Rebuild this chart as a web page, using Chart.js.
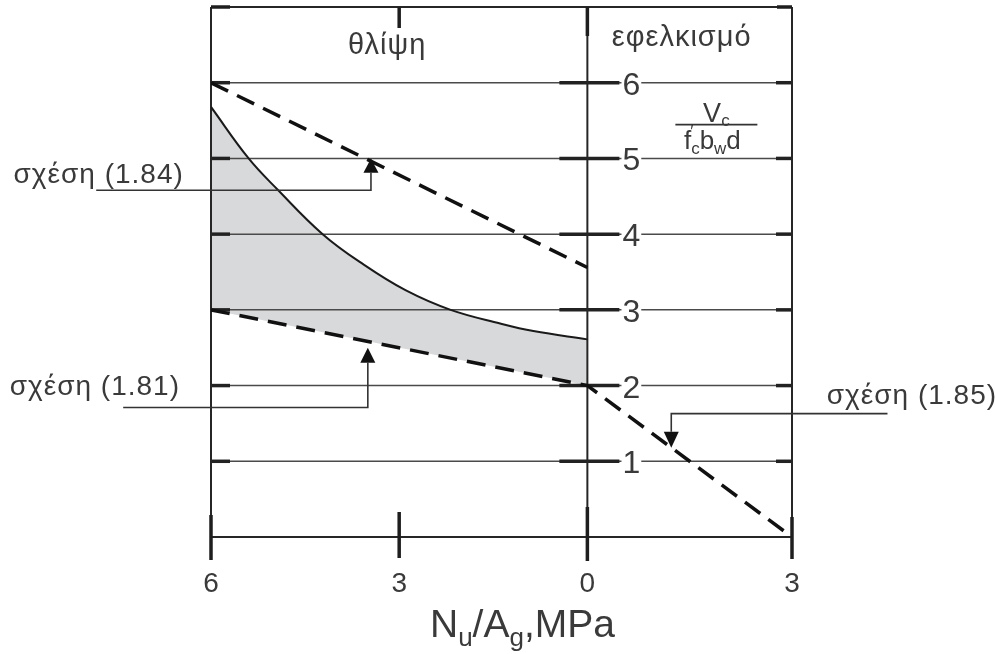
<!DOCTYPE html>
<html>
<head>
<meta charset="utf-8">
<script src="https://cdn.jsdelivr.net/npm/chart.js@4.4.0/dist/chart.umd.min.js"></script>
<style>
  html, body { margin: 0; padding: 0; background: #fff; }
  #wrap { width: 995px; height: 654px; position: relative; }
</style>
</head>
<body>
<div id="wrap"><canvas id="myChart"></canvas></div>
<script>
// x: axial stress N/A (MPa), compression negative (left), tension positive (right)
const curveX = [-6, -5.4, -4.94, -4.22, -3.57, -2.9, -2.18, -1.39, -0.86, 0];
const curveY = [5.68, 5.0, 4.59, 4.0, 3.6, 3.26, 3.0, 2.82, 2.72, 2.61];

const eq184X = [-6, 0];
const eq184Y = [6, 3.56];

const eq181X = [-6, 0, 3];
const eq181Y = [3, 2, 0];

const xTicks = [-6, -3, 0, 3];
const xTickLabels = ["6", "3", "0", "3"];
const yTicks = [1, 2, 3, 4, 5, 6];

// annotation labels: text, where the text sits, leader line and arrow (data units)
const notes = [
  { text: "σχέση (1.84)", tx: -6.45, ty: 4.68, align: "right", ly: 4.58, lx0: -7.83, ax: -3.45, tip: 5.0, base: 4.81 },
  { text: "σχέση (1.81)", tx: -6.51, ty: 1.87, align: "right", ly: 1.71, lx0: -7.4, ax: -3.5, tip: 2.5, base: 2.3 },
  { text: "σχέση (1.85)", tx: 3.51, ty: 1.76, align: "left", ly: 1.63, lx0: 4.4, ax: 1.23, tip: 1.18, base: 1.39 }
];

function pts(xs, ys) {
  return xs.map(function (x, i) { return { x: x, y: ys[i] }; });
}

// x axis: compression side and tension side are drawn at different scales
const SPLIT = 0.6478;
class SplitScale extends Chart.LinearScale {
  getPixelForValue(value) {
    if (value === null || value === undefined) return NaN;
    var zero = this.left + (this.right - this.left) * SPLIT;
    if (value <= 0) return zero + (value / -this.min) * (zero - this.left);
    return zero + (value / this.max) * (this.right - zero);
  }
  getValueForPixel(pixel) {
    var zero = this.left + (this.right - this.left) * SPLIT;
    if (pixel <= zero) return ((pixel - zero) / (zero - this.left)) * -this.min;
    return ((pixel - zero) / (this.right - zero)) * this.max;
  }
}
SplitScale.id = "split";
SplitScale.defaults = Chart.LinearScale.defaults;
Chart.register(SplitScale);

const FONT = "'Liberation Sans', Arial, Helvetica, sans-serif";
const INK = "#262626";
const TEXT = "#3a3a3a";

function line(ctx, x0, y0, x1, y1) {
  ctx.beginPath();
  ctx.moveTo(x0, y0);
  ctx.lineTo(x1, y1);
  ctx.stroke();
}

const framePlugin = {
  id: "frame",
  beforeDatasetsDraw(chart) {
    const ctx = chart.ctx;
    const xs = chart.scales.x, ys = chart.scales.y;
    const X = function (v) { return xs.getPixelForValue(v); };
    const Y = function (v) { return ys.getPixelForValue(v); };
    ctx.save();
    ctx.lineCap = "butt";

    // grid lines
    ctx.strokeStyle = "#4a4a4a";
    ctx.lineWidth = 1.5;
    yTicks.forEach(function (t) { line(ctx, X(-6), Y(t), X(3), Y(t)); });
    ctx.strokeStyle = "#222";
    ctx.lineWidth = 3.5;
    yTicks.forEach(function (t) {
      line(ctx, X(-6), Y(t), X(-6) + 19, Y(t));
      line(ctx, X(0) - 28, Y(t), X(0) + 32, Y(t));
      line(ctx, X(3) - 16, Y(t), X(3), Y(t));
    });

    // frame
    ctx.strokeStyle = INK;
    ctx.lineWidth = 2;
    line(ctx, X(-6), Y(7), X(3), Y(7));
    line(ctx, X(-6), Y(0), X(3), Y(0));
    line(ctx, X(-6), Y(7), X(-6), Y(0) + 23);
    line(ctx, X(3), Y(7), X(3), Y(0) + 22);
    line(ctx, X(0), Y(7), X(0), Y(0) + 24);

    // heavy ticks
    ctx.strokeStyle = "#1e1e1e";
    ctx.lineWidth = 3.5;
    line(ctx, X(-6), Y(7), X(-6) + 19, Y(7));
    line(ctx, X(3) - 15, Y(7), X(3), Y(7));
    line(ctx, X(-3), Y(7), X(-3), Y(7) + 21);
    line(ctx, X(0), Y(7), X(0), Y(7) + 29);
    line(ctx, X(-6), Y(0) - 22, X(-6), Y(0) + 23);
    line(ctx, X(-3), Y(0) - 25, X(-3), Y(0) + 21);
    line(ctx, X(0), Y(0) - 30, X(0), Y(0) + 24);
    line(ctx, X(3), Y(0) - 20, X(3), Y(0) + 22);
    ctx.restore();
  },
  afterDatasetsDraw(chart) {
    const ctx = chart.ctx;
    const xs = chart.scales.x, ys = chart.scales.y;
    const X = function (v) { return xs.getPixelForValue(v); };
    const Y = function (v) { return ys.getPixelForValue(v); };
    ctx.save();
    ctx.fillStyle = TEXT;

    // y tick labels sitting on the grid lines
    ctx.font = "32px " + FONT;
    ctx.textAlign = "center";
    ctx.textBaseline = "alphabetic";
    yTicks.forEach(function (t) {
      var cx = X(0) + 44;
      var w = ctx.measureText(String(t)).width;
      ctx.fillStyle = "#fff";
      ctx.fillRect(cx - w / 2 - 1, Y(t) - 2, w + 2, 4);
      ctx.fillStyle = TEXT;
      ctx.fillText(String(t), cx, Y(t) + 12);
    });

    // x tick labels
    ctx.font = "28px " + FONT;
    xTicks.forEach(function (t, i) {
      ctx.fillText(xTickLabels[i], X(t), Y(0) + 55);
    });

    // region titles
    ctx.font = "29px " + FONT;
    ctx.letterSpacing = "1px";
    ctx.fillText("θλίψη", X(-3) - 12, Y(7) + 47);
    ctx.fillText("εφελκισμό", (X(0) + X(3)) / 2 - 8, Y(7) + 39);
    ctx.letterSpacing = "0px";

    // axis title N_u/A_g,MPa
    var parts = [["N", 0], ["u", 1], ["/A", 0], ["g", 1], [",MPa", 0]];
    drawRich(ctx, parts, 430, Y(0) + 100, 39, 26, 9, "left");

    // y quantity  V_c / (f'_c b_w d)
    var fx = X(0) + 88, fy = Y(6) + 42;
    ctx.strokeStyle = "#333";
    ctx.lineWidth = 1.8;
    line(ctx, fx, fy, fx + 82, fy);
    drawRich(ctx, [["V", 0], ["c", 1]], fx + 41, fy - 3, 27, 17, 4, "center");
    drawRich(ctx, [["f", 0], ["′", 2], ["c", 1], ["b", 0], ["w", 1], ["d", 0]], fx + 37, fy + 24, 26, 17, 5, "center");

    // annotations
    ctx.font = "28px " + FONT;
    notes.forEach(function (n) {
      ctx.fillStyle = TEXT;
      ctx.textAlign = n.align;
      ctx.letterSpacing = "1px";
      ctx.fillText(n.text, X(n.tx) + (n.align === "right" ? 1 : 0), Y(n.ty));
      ctx.letterSpacing = "0px";
      ctx.strokeStyle = "#333";
      ctx.lineWidth = 1.6;
      ctx.beginPath();
      ctx.moveTo(X(n.lx0), Y(n.ly));
      ctx.lineTo(X(n.ax), Y(n.ly));
      ctx.lineTo(X(n.ax), Y(n.base));
      ctx.stroke();
      ctx.fillStyle = "#111";
      ctx.beginPath();
      ctx.moveTo(X(n.ax), Y(n.tip));
      ctx.lineTo(X(n.ax) - 7.5, Y(n.base));
      ctx.lineTo(X(n.ax) + 7.5, Y(n.base));
      ctx.closePath();
      ctx.fill();
    });
    ctx.restore();
  }
};

// text with subscripts: kind 0 normal, 1 subscript, 2 prime
function drawRich(ctx, parts, x, y, size, subSize, drop, align) {
  var total = 0;
  parts.forEach(function (p) {
    ctx.font = (p[1] ? subSize : size) + "px " + FONT;
    total += p[1] === 2 ? 0 : ctx.measureText(p[0]).width;
  });
  var cx = align === "center" ? x - total / 2 : x;
  ctx.textAlign = "left";
  ctx.fillStyle = TEXT;
  parts.forEach(function (p) {
    ctx.font = (p[1] ? subSize : size) + "px " + FONT;
    if (p[1] === 2) {
      ctx.fillText(p[0], cx - 1, y - size * 0.45);
      return;
    }
    ctx.fillText(p[0], cx, p[1] === 1 ? y + drop : y);
    cx += ctx.measureText(p[0]).width;
  });
}

const ctx = document.getElementById("myChart").getContext("2d");
const myChart = new Chart(ctx, {
  type: "line",
  data: {
    datasets: [
      {
        data: pts(curveX, curveY),
        borderColor: "#1a1a1a",
        borderWidth: 2,
        pointRadius: 0,
        tension: 0.4,
        fill: { target: 3, above: "#d8d9da", below: "#d8d9da" },
      },
      {
        data: pts(eq184X, eq184Y),
        borderColor: "#111",
        borderWidth: 3.5,
        borderDash: [19, 10],
        pointRadius: 0,
        fill: false,
      },
      {
        data: pts(eq181X, eq181Y),
        borderColor: "#111",
        borderWidth: 3.5,
        borderDash: [19, 10],
        pointRadius: 0,
        fill: false,
      },
      {
        // lower edge of the shaded band (eq. 1.81 on the compression side)
        data: pts(eq181X.slice(0, 2), eq181Y.slice(0, 2)),
        borderWidth: 0,
        borderColor: "rgba(0,0,0,0)",
        pointRadius: 0,
        fill: false,
      },
    ],
  },
  options: {
    responsive: true,
    maintainAspectRatio: false,
    animation: false,
    layout: { padding: { left: 211, right: 203, top: 7, bottom: 117 } },
    scales: {
      x: { type: "split", min: -6, max: 3, display: false },
      y: { type: "linear", min: 0, max: 7, display: false },
    },
    plugins: {
      legend: { display: false },
      tooltip: { enabled: false },
      filler: { drawTime: "beforeDraw" },
    },
  },
  plugins: [framePlugin],
});
</script>
</body>
</html>
